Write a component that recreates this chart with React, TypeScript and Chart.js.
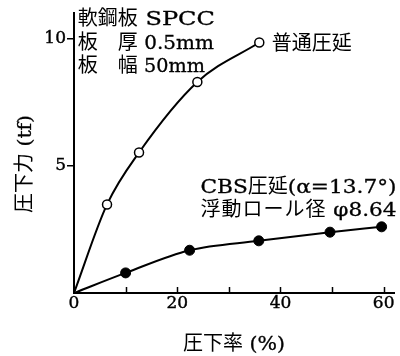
import { useEffect, useRef } from "react";
import { Chart, registerables } from "chart.js";
Chart.register(...registerables);

// 普通圧延 (open circles)
const normalX = [0, 6.4, 12.6, 23.9, 35.9];
const normalY = [0, 3.48, 5.52, 8.29, 9.84];
// CBS圧延 (filled circles)
const cbsX = [0, 10.0, 22.4, 35.8, 49.6, 59.6];
const cbsY = [0, 0.79, 1.68, 2.05, 2.39, 2.6];

const xLabelTicks = [0, 20, 40, 60];
const xMarkTicks = [10, 20, 30, 40, 50, 60];
const yTicks = [5, 10];

const noteLines = ["軟鋼板 SPCC", "板　厚 0.5mm", "板　幅 50mm"];
const normalLabel = "普通圧延";
const cbsLines = ["CBS圧延(α=13.7°)", "浮動ロール径 φ8.64"];
const xTitle = "圧下率 (%)";
const yTitle = "圧下力 (tf)";

const CJK_FONT = "20px 'Noto Sans CJK JP', sans-serif";
const LAT_FONT = "18px 'DejaVu Serif', serif";
const TICK_FAMILY = "'DejaVu Serif', serif";

function runs(text: string) {
  const out: { t: string; cjk: boolean }[] = [];
  for (const ch of text) {
    const cjk = /[\u3000-\u30ff\u4e00-\u9fff\uff00-\uffef]/.test(ch);
    const last = out[out.length - 1];
    if (last && last.cjk === cjk) last.t += ch;
    else out.push({ t: ch, cjk });
  }
  return out;
}

// Draws mixed CJK / Latin text; CJK runs get letter spacing `cjkLs`,
// Latin runs are stretched horizontally so that the line fills `width`.
function drawFit(
  ctx: CanvasRenderingContext2D,
  text: string,
  x: number,
  yMid: number,
  width: number,
  cjkLs: number,
  align: "left" | "center"
) {
  const parts = runs(text);
  const widths = parts.map((p) => {
    if (p.cjk) {
      ctx.font = CJK_FONT;
      (ctx as any).letterSpacing = `${cjkLs}px`;
      const w = ctx.measureText(p.t).width;
      (ctx as any).letterSpacing = "0px";
      return w;
    }
    ctx.font = LAT_FONT;
    return ctx.measureText(p.t).width;
  });
  let cjkW = 0;
  let latW = 0;
  parts.forEach((p, i) => (p.cjk ? (cjkW += widths[i]) : (latW += widths[i])));
  let sx = latW > 0 ? (width - cjkW) / latW : 1;
  sx = Math.max(0.8, Math.min(1.6, sx));
  const total = cjkW + latW * sx;
  let cx = align === "center" ? x - total / 2 : x;
  ctx.textAlign = "left";
  ctx.textBaseline = "alphabetic";
  const base = yMid + 7;
  parts.forEach((p, i) => {
    if (p.cjk) {
      ctx.font = CJK_FONT;
      (ctx as any).letterSpacing = `${cjkLs}px`;
      ctx.fillText(p.t, cx, base);
      (ctx as any).letterSpacing = "0px";
      cx += widths[i];
    } else {
      ctx.font = LAT_FONT;
      ctx.save();
      ctx.translate(cx, base);
      ctx.scale(sx, 1);
      ctx.lineWidth = 0.3;
      ctx.strokeStyle = "#000";
      ctx.fillText(p.t, 0, 0);
      ctx.strokeText(p.t, 0, 0);
      ctx.restore();
      cx += widths[i] * sx;
    }
  });
}

export default function App() {
  const ref = useRef<HTMLCanvasElement>(null);
  useEffect(() => {
    const canvas = ref.current!;
    const textPlugin = {
      id: "texts",
      afterDraw(chart: any) {
        const { ctx, chartArea } = chart;
        const x = chart.scales.x;
        const y = chart.scales.y;
        ctx.save();
        // inner tick marks on x axis
        ctx.strokeStyle = "#000";
        ctx.lineWidth = 1.5;
        xMarkTicks.forEach((v) => {
          const px = Math.round(x.getPixelForValue(v)) + 0.5;
          ctx.beginPath();
          ctx.moveTo(px, chartArea.bottom);
          ctx.lineTo(px, chartArea.bottom - 6);
          ctx.stroke();
        });
        ctx.fillStyle = "#000";
        const noteY = [10.8, 9.88, 8.97];
        const noteW = [137, 136, 127];
        noteLines.forEach((t, i) => {
          drawFit(ctx, t, x.getPixelForValue(0.75), y.getPixelForValue(noteY[i]), noteW[i], 0, "left");
        });
        drawFit(ctx, normalLabel, x.getPixelForValue(38.3), y.getPixelForValue(9.83), 79, 0, "left");
        const cbsYPos = [4.2, 3.3];
        const cbsLs = [0, 1];
        cbsLines.forEach((t, i) => {
          drawFit(ctx, t, x.getPixelForValue(24.5), y.getPixelForValue(cbsYPos[i]), 196, cbsLs[i], "left");
        });
        drawFit(ctx, xTitle, (chartArea.left + chartArea.right) / 2, chartArea.bottom + 50, 102, 0, "center");
        ctx.translate(24, (chartArea.top + chartArea.bottom) / 2 + 11);
        ctx.rotate(-Math.PI / 2);
        drawFit(ctx, yTitle, 0, 0, 98, 0, "center");
        ctx.restore();
      },
    };
    const chart = new Chart(canvas, {
      type: "scatter",
      data: {
        datasets: [
          {
            data: normalX.map((v, i) => ({ x: v, y: normalY[i] })),
            showLine: true,
            borderColor: "#000",
            borderWidth: 2,
            cubicInterpolationMode: "monotone",
            pointRadius: normalX.map((v) => (v === 0 ? 0 : 4.5)),
            pointBackgroundColor: "#fff",
            pointBorderColor: "#000",
            pointBorderWidth: 1.5,
          },
          {
            data: cbsX.map((v, i) => ({ x: v, y: cbsY[i] })),
            showLine: true,
            borderColor: "#000",
            borderWidth: 2,
            cubicInterpolationMode: "monotone",
            pointRadius: cbsX.map((v) => (v === 0 ? 0 : 5)),
            pointBackgroundColor: "#000",
            pointBorderColor: "#000",
            pointBorderWidth: 1,
          },
        ],
      },
      options: {
        animation: false,
        responsive: false,
        layout: { padding: { top: 13, right: 2, left: 0, bottom: 0 } },
        plugins: { legend: { display: false }, tooltip: { enabled: false } },
        scales: {
          x: {
            type: "linear",
            min: 0,
            max: 62,
            afterBuildTicks: (s: any) => {
              s.ticks = xLabelTicks.map((v) => ({ value: v }));
            },
            afterFit: (s: any) => {
              s.height = 63;
            },
            grid: { display: false, drawTicks: false, tickLength: 0 },
            border: { display: true, color: "#000", width: 2 },
            ticks: {
              color: "#000",
              padding: 0,
              maxRotation: 0,
              autoSkip: false,
              textStrokeColor: "#000",
              textStrokeWidth: 0.4,
              font: { family: TICK_FAMILY, size: 17 },
            },
          },
          y: {
            type: "linear",
            min: 0,
            max: 11,
            afterBuildTicks: (s: any) => {
              s.ticks = yTicks.map((v) => ({ value: v }));
            },
            afterFit: (s: any) => {
              s.width = 74;
            },
            grid: {
              display: true,
              drawOnChartArea: false,
              drawTicks: true,
              tickLength: 7,
              color: "#000",
              lineWidth: 1.5,
            },
            border: { display: true, color: "#000", width: 2 },
            ticks: {
              color: "#000",
              padding: 1,
              autoSkip: false,
              textStrokeColor: "#000",
              textStrokeWidth: 0.4,
              font: { family: TICK_FAMILY, size: 17 },
            },
          },
        },
      },
      plugins: [textPlugin],
    } as any);
    return () => chart.destroy();
  }, []);
  return (
    <div style={{ position: "absolute", left: 0, top: 0, width: 400, height: 356, background: "#fff" }}>
      <canvas ref={ref} width={400} height={356} style={{ display: "block" }} />
    </div>
  );
}
